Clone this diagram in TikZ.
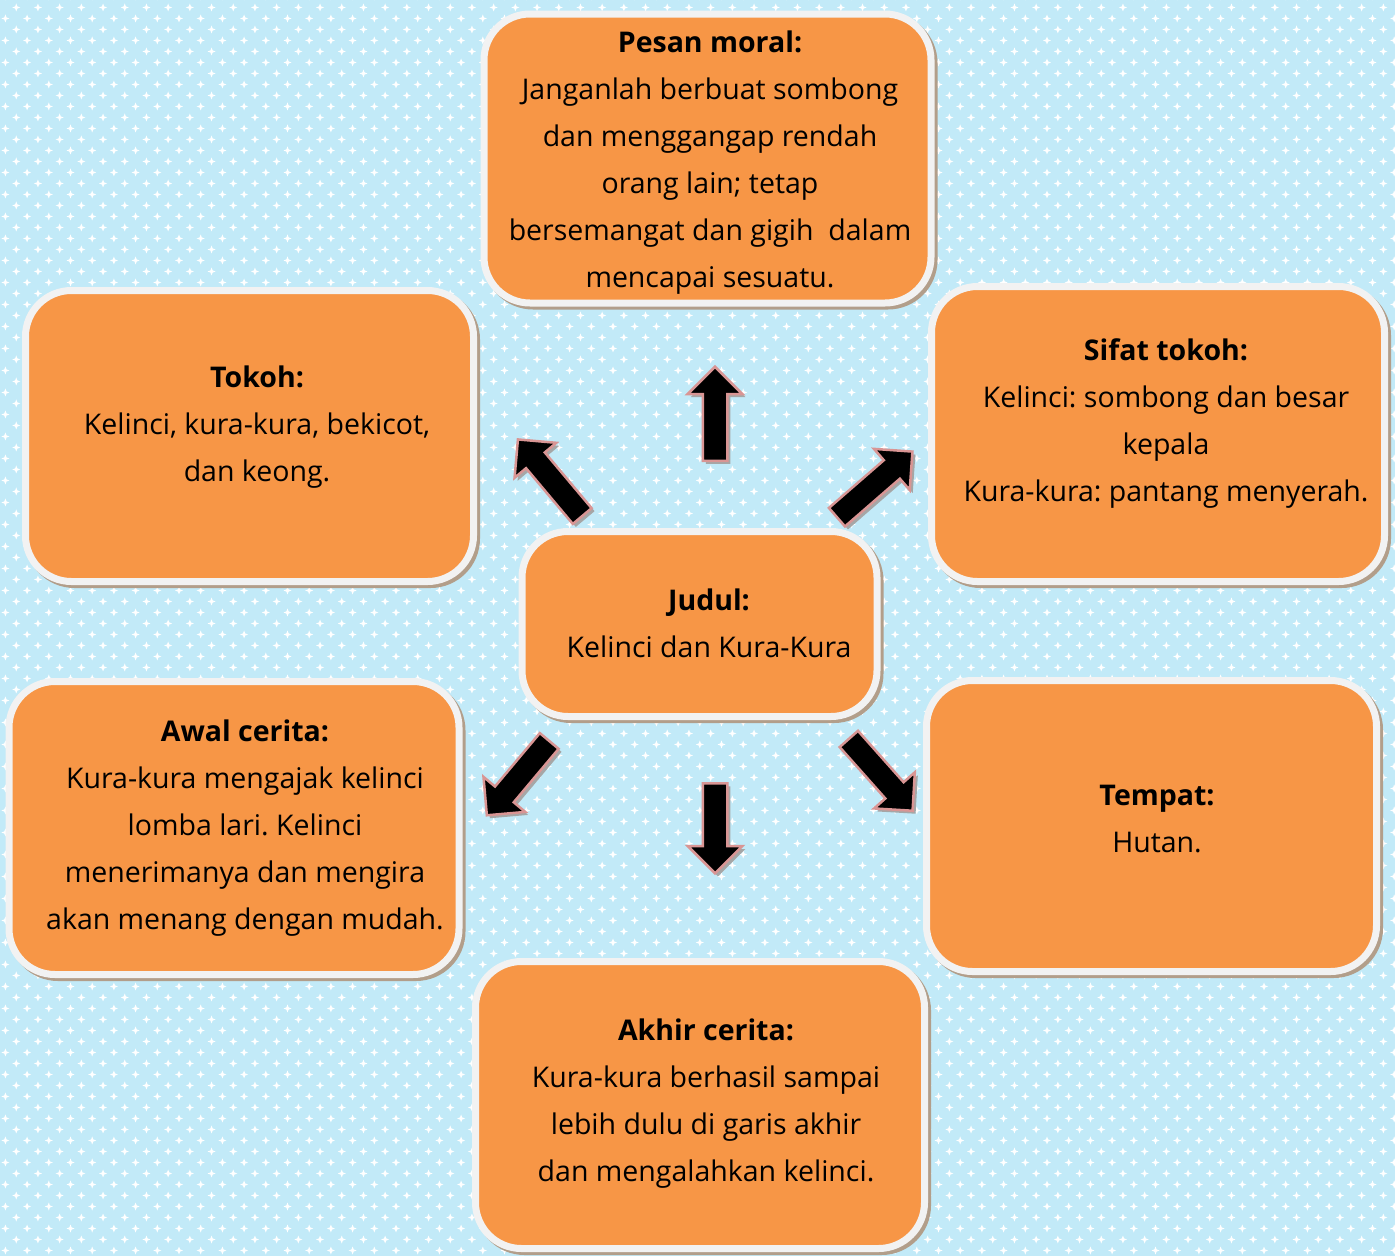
\documentclass[tikz,border=0pt]{standalone}
\usepackage{fontspec}
\setmainfont{Open Sans}
\frenchspacing
\usetikzlibrary{shapes.arrows,shadows,patterns}
\definecolor{bgblue}{RGB}{194,234,248}
\definecolor{boxorange}{RGB}{247,150,70}
\definecolor{rimwhite}{RGB}{242,242,242}
\definecolor{shadowtan}{RGB}{178,158,138}
\definecolor{arrowpink}{RGB}{217,149,148}
\pgfdeclarepatternformonly{sparkles}{\pgfpoint{-1pt}{-1pt}}{\pgfpoint{22.7pt}{23pt}}{\pgfpoint{21.7pt}{22pt}}{%
  \foreach \cx/\cy in {5.4/5.5,16.25/16.5}{%
    \pgfpathmoveto{\pgfpoint{\cx pt}{\cy pt+4pt}}%
    \pgfpathlineto{\pgfpoint{\cx pt+1.1pt}{\cy pt+1.1pt}}%
    \pgfpathlineto{\pgfpoint{\cx pt+4pt}{\cy pt}}%
    \pgfpathlineto{\pgfpoint{\cx pt+1.1pt}{\cy pt-1.1pt}}%
    \pgfpathlineto{\pgfpoint{\cx pt}{\cy pt-4pt}}%
    \pgfpathlineto{\pgfpoint{\cx pt-1.1pt}{\cy pt-1.1pt}}%
    \pgfpathlineto{\pgfpoint{\cx pt-4pt}{\cy pt}}%
    \pgfpathlineto{\pgfpoint{\cx pt-1.1pt}{\cy pt+1.1pt}}%
    \pgfpathclose
  }%
  \pgfusepath{fill}%
}
\tikzset{
  box/.style={rectangle, rounded corners=46pt, fill=boxorange, draw=rimwhite, line width=7pt, inner sep=0pt,
    general shadow={shadow xshift=3pt, shadow yshift=-3pt, draw=shadowtan, fill=shadowtan, line width=7pt}},
  boxtext/.style={align=center, font=\fontsize{28.5}{47}\selectfont, inner sep=0pt},
  blockarrow/.style={single arrow, fill=black, draw=arrowpink, line width=2.5pt, inner sep=11pt,
    single arrow head extend=15pt, single arrow tip angle=90, anchor=tail,
    general shadow={shadow xshift=3pt, shadow yshift=-3pt, fill=black!35, draw=none}},
}
\begin{document}
\begin{tikzpicture}[x=1pt,y=-1pt]
\useasboundingbox (0,0) rectangle (1395,1256);
\fill[bgblue] (0,0) rectangle (1395,1256);
\fill[pattern=sparkles, pattern color=white] (0,0) rectangle (1395,1256);

% boxes
\node[box, minimum width=447pt, minimum height=289pt] (pesan) at (707.5,158.5) {};
\node[box, minimum width=448pt, minimum height=291pt] (tokoh) at (249.5,436) {};
\node[box, minimum width=453pt, minimum height=295pt] (sifat) at (1158,434) {};
\node[box, minimum width=355pt, minimum height=185pt] (judul) at (699.5,624) {};
\node[box, minimum width=450pt, minimum height=293pt] (awal) at (234,828) {};
\node[box, minimum width=450pt, minimum height=291pt] (tempat) at (1151.5,826) {};
\node[box, minimum width=449pt, minimum height=287pt] (akhir) at (700,1105) {};

% texts
\node[boxtext] (tpesan) at (710,163) {\textbf{Pesan moral:}\\Janganlah berbuat sombong\\dan menggangap rendah\\orang lain; tetap\\bersemangat dan gigih\ \ dalam\\mencapai sesuatu.};
\node[boxtext] (ttokoh) at (257,427) {\textbf{Tokoh:}\\Kelinci, kura-kura, bekicot,\\dan keong.};
\node[boxtext] (tsifat) at (1166,423.5) {\textbf{Sifat tokoh:}\\Kelinci: sombong dan besar\\kepala\\Kura-kura: pantang menyerah.};
\node[boxtext] (tjudul) at (709,623.5) {\textbf{Judul:}\\Kelinci dan Kura-Kura};
\node[boxtext] (tawal) at (245,828) {\textbf{Awal cerita:}\\Kura-kura mengajak kelinci\\lomba lari. Kelinci\\menerimanya dan mengira\\akan menang dengan mudah.};
\node[boxtext] (ttempat) at (1157,819.5) {\textbf{Tempat:}\\Hutan.};
\node[boxtext] (takhir) at (706,1103.5) {\textbf{Akhir cerita:}\\Kura-kura berhasil sampai\\lebih dulu di garis akhir\\dan mengalahkan kelinci.};

% arrows
\coordinate (cup) at (715,462);
\coordinate (cdown) at (715,782);
\coordinate (cul) at (583,517);
\coordinate (cur) at (836,518);
\coordinate (cll) at (550,740);
\coordinate (clr) at (848,738);
\node[blockarrow, minimum height=94pt, rotate=90] (aup) at (cup) {};
\node[blockarrow, minimum height=90pt, rotate=-90] (adown) at (cdown) {};
\node[blockarrow, minimum height=100pt, rotate=130] (aul) at (cul) {};
\node[blockarrow, minimum height=100pt, rotate=41] (aur) at (cur) {};
\node[blockarrow, minimum height=97pt, rotate=230] (all) at (cll) {};
\node[blockarrow, minimum height=96pt, rotate=-48.4] (alr) at (clr) {};
\end{tikzpicture}
\end{document}
